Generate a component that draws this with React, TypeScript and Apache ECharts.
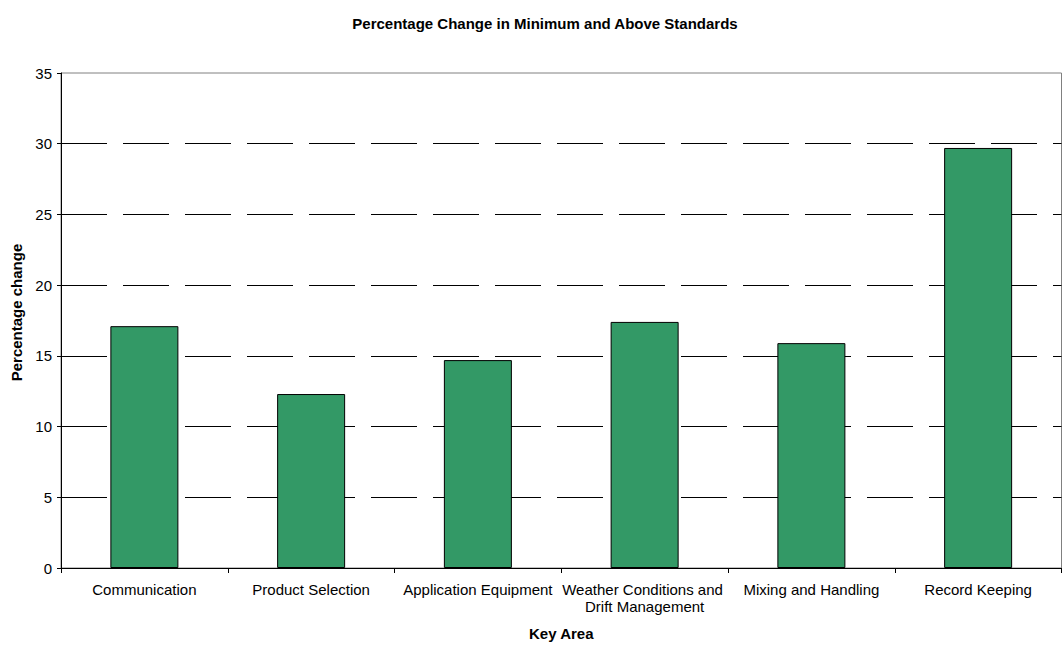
import React, { useEffect, useRef } from "react";
import * as echarts from "echarts";

const categories = [
  "Communication",
  "Product Selection",
  "Application Equipment",
  "Weather Conditions and Drift Management",
  "Mixing and Handling",
  "Record Keeping",
];
const values = [17.1, 12.3, 14.7, 17.4, 15.9, 29.7];
const yTicks = [0, 5, 10, 15, 20, 25, 30, 35];

const FONT = "'Liberation Sans', Arial, sans-serif";

export default function App() {
  const ref = useRef<HTMLDivElement>(null);
  useEffect(() => {
    if (!ref.current) return;
    const chart = echarts.init(ref.current, undefined, { renderer: "svg" });
    chart.setOption({
      animation: false,
      backgroundColor: "#ffffff",
      textStyle: { fontFamily: FONT },
      title: {
        text: "Percentage Change in Minimum and Above Standards",
        left: 540,
        top: 11,
        textAlign: "center",
        textStyle: { fontSize: 15, fontWeight: "bold", color: "#000", fontFamily: FONT },
      },
      grid: {
        left: 61,
        right: -11,
        top: 73,
        bottom: 72,
        show: true,
        borderColor: "#808080",
        borderWidth: 1,
        backgroundColor: "transparent",
      },
      xAxis: {
        type: "category",
        data: categories,
        name: "Key Area",
        nameLocation: "middle",
        nameGap: 58,
        nameTextStyle: { fontSize: 15, fontWeight: "bold", color: "#000", fontFamily: FONT },
        axisLine: { lineStyle: { color: "#000", width: 1 } },
        axisTick: { show: true, alignWithLabel: false, length: 5, lineStyle: { color: "#000" } },
        axisLabel: {
          interval: 0,
          color: "#000",
          fontSize: 15,
          fontFamily: FONT,
          margin: 13,
          width: 168,
          overflow: "break",
          lineHeight: 17,
        },
      },
      yAxis: {
        type: "value",
        min: 0,
        max: 35,
        interval: 5,
        name: "Percentage change",
        nameLocation: "middle",
        nameGap: 36,
        nameTextStyle: {
          fontSize: 15,
          fontWeight: "bold",
          color: "#000",
          fontFamily: FONT,
          padding: [0, 0, 0, 16],
        },
        axisLine: { show: true, lineStyle: { color: "#000", width: 1 } },
        axisTick: { show: true, length: 4, lineStyle: { color: "#000" } },
        axisLabel: {
          color: "#000",
          fontSize: 15,
          fontFamily: FONT,
          margin: 9,
          formatter: (v: number) => (yTicks.includes(v) ? String(v) : ""),
        },
        splitLine: {
          show: true,
          lineStyle: {
            color: yTicks.map((t, i) => (i === 0 || i === yTicks.length - 1 ? "rgba(0,0,0,0)" : "#000")),
            type: [46, 16],
            width: 1,
          },
        },
      },
      series: [
        {
          type: "bar",
          data: values,
          barWidth: 68,
          itemStyle: { color: "#339966", borderColor: "#000", borderWidth: 1 },
        },
      ],
    });
    return () => chart.dispose();
  }, []);
  return (
    <div
      ref={ref}
      style={{ position: "fixed", left: 0, top: 0, width: 1064, height: 646 }}
    />
  );
}
